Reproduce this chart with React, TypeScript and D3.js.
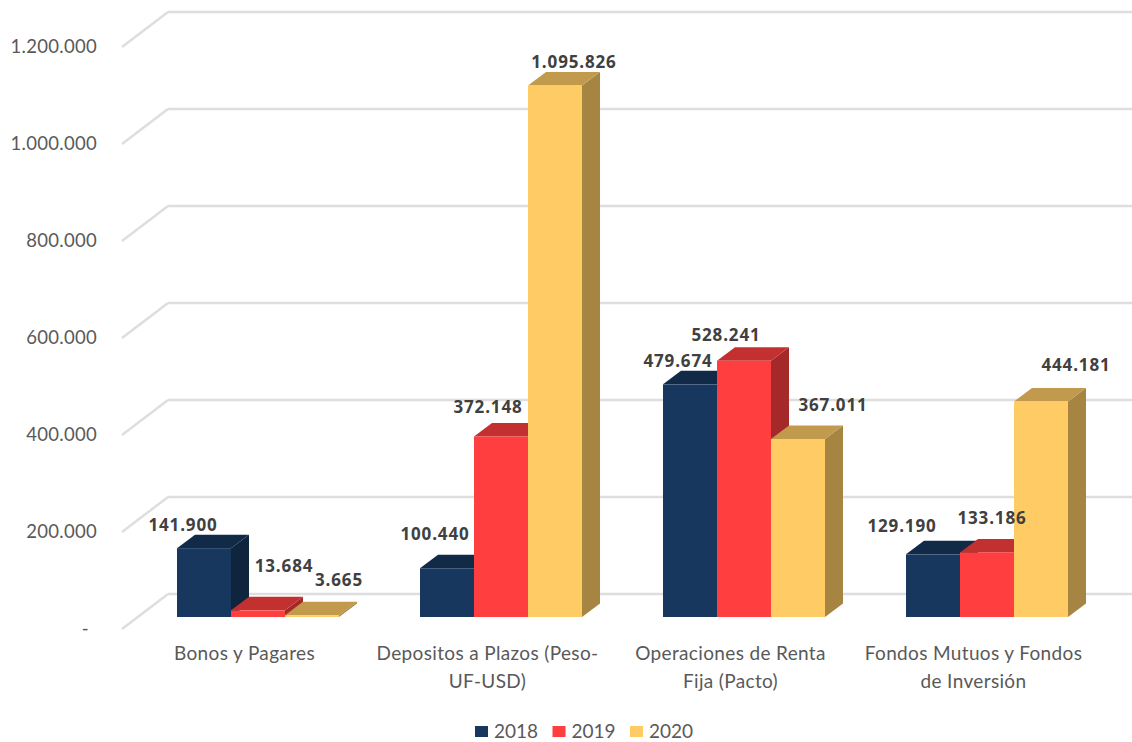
import * as d3 from "d3";

const categories = ["Bonos y Pagares", "Depositos a Plazos (Peso-UF-USD)", "Operaciones de Renta Fija (Pacto)", "Fondos Mutuos y Fondos de Inversión"];
const categoryLines = [["Bonos y Pagares"], ["Depositos a Plazos (Peso-", "UF-USD)"], ["Operaciones de Renta", "Fija (Pacto)"], ["Fondos Mutuos y Fondos", "de Inversión"]];
const years = ["2018", "2019", "2020"];
const values2018 = [141900, 100440, 479674, 129190];
const values2019 = [13684, 372148, 528241, 133186];
const values2020 = [3665, 1095826, 367011, 444181];
const seriesValues = [values2018, values2019, values2020];
const colors = ["#17375E", "#FF3F3F", "#FFCB65"];

// hand placed label nudges, [dx, dy] from the centre top of each bar
const labelNudge = [
  [[-21, -17], [26, -38], [27, -29]],
  [[-12, -28], [-13, -24], [19, -18]],
  [[-12, -17], [-18, -20], [35, -28]],
  [[-31, -22], [5, -28], [35, -31]],
];

const width = 1132;
const height = 742;
const depth = { x: 18, y: 13.5 };
const wall = { x: 46, y: 35 };
const backShift = { x: 0, y: -23 };

const x0 = d3.scaleBand<string>().domain(categories).range([136.5, 1108.5]);
const x1 = d3.scaleBand<string>().domain(years).range([0, x0.bandwidth()]).paddingInner(0).paddingOuter(0.75);
const y = d3.scaleLinear().domain([0, 1200000]).range([617, 35]);
const yTicks = y.ticks(6);
const fmt = d3.formatLocale({ decimal: ",", thousands: ".", grouping: [3], currency: ["$", ""] }).format(",d");

const shade = (c: string, k: number) => {
  const r = d3.rgb(c);
  return d3.rgb(r.r * k, r.g * k, r.b * k).formatHex();
};

const labelFont = "Lato, 'Open Sans', sans-serif";

export default function App() {
  const wallX = 168;
  return (
    <svg width={width} height={height} style={{ position: "absolute", left: 0, top: 0, background: "#fff" }}>
      {yTicks.map((t) => {
        const gy = y(t) + backShift.y;
        return (
          <g key={t} stroke="#DEDEDE" strokeWidth={2.5} fill="none">
            <line x1={wallX} x2={width} y1={gy} y2={gy} />
            <line x1={wallX} x2={wallX - wall.x} y1={gy} y2={gy + wall.y} />
          </g>
        );
      })}
      {yTicks.map((t) => (
        <text
          key={t}
          x={t === 0 ? 89 : 97}
          y={y(t) + backShift.y + wall.y}
          dy="0.35em"
          textAnchor="end"
          fontFamily={labelFont}
          fontSize={18.5}
          letterSpacing={0.3}
          fill="#595959"
        >
          {t === 0 ? "-" : fmt(t)}
        </text>
      ))}

      {categories.map((c, ci) =>
        years.map((yr, si) => {
          const v = seriesValues[si][ci];
          const bx = x0(c)! + x1(yr)!;
          const bw = x1.bandwidth();
          const top = y(v);
          const base = y(0);
          const col = colors[si];
          const topPath = d3.path();
          topPath.moveTo(bx, top);
          topPath.lineTo(bx + depth.x, top - depth.y);
          topPath.lineTo(bx + bw + depth.x, top - depth.y);
          topPath.lineTo(bx + bw, top);
          topPath.closePath();
          const sidePath = d3.path();
          sidePath.moveTo(bx + bw, top);
          sidePath.lineTo(bx + bw + depth.x, top - depth.y);
          sidePath.lineTo(bx + bw + depth.x, base - depth.y);
          sidePath.lineTo(bx + bw, base);
          sidePath.closePath();
          return (
            <g key={c + yr}>
              <path d={sidePath.toString()} fill={shade(col, 0.65)} />
              <path d={topPath.toString()} fill={shade(col, 0.76)} />
              <rect x={bx} y={top} width={bw} height={base - top} fill={col} />
            </g>
          );
        })
      )}

      {categories.map((c, ci) =>
        years.map((yr, si) => {
          const v = seriesValues[si][ci];
          const [dx, dy] = labelNudge[ci][si];
          return (
            <text
              key={c + yr}
              x={x0(c)! + x1(yr)! + x1.bandwidth() / 2 + dx}
              y={y(v) + dy}
              textAnchor="middle"
              fontFamily="'Open Sans', sans-serif"
              fontWeight={700}
              fontSize={17}
              letterSpacing={0.85}
              fill="#404040"
            >
              {fmt(v)}
            </text>
          );
        })
      )}

      {categories.map((c, ci) =>
        categoryLines[ci].map((line, li) => (
          <text
            key={line}
            x={x0(c)! + x0.bandwidth() / 2 - 13.5}
            y={660 + li * 28}
            textAnchor="middle"
            fontFamily={labelFont}
            fontSize={19}
            letterSpacing={0.35}
            fill="#595959"
          >
            {line}
          </text>
        ))
      )}

      {years.map((yr, i) => {
        const lx = 475 + i * 77.5;
        return (
          <g key={yr}>
            <rect x={lx} y={726} width={13} height={11} fill={colors[i]} />
            <text x={lx + 19} y={738} fontFamily={labelFont} fontSize={19} fill="#595959">
              {yr}
            </text>
          </g>
        );
      })}
    </svg>
  );
}
